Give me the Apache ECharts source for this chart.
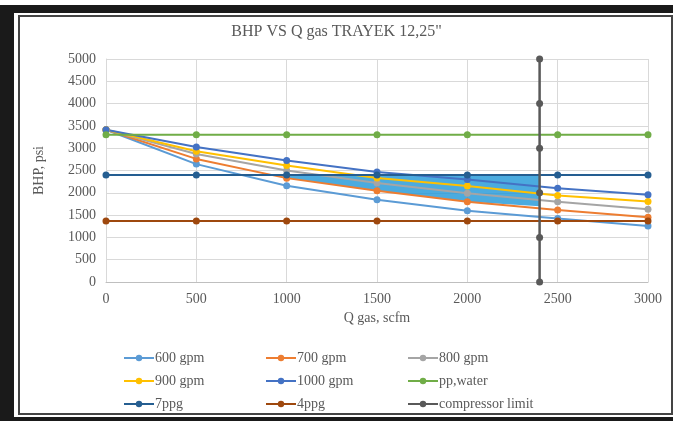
<!DOCTYPE html>
<html>
<head>
<meta charset="utf-8">
<script src="https://cdn.jsdelivr.net/npm/echarts@6/dist/echarts.min.js"></script>
<style>
  html, body { margin: 0; padding: 0; background: #fff; }
  #chart { width: 673px; height: 421px; }
</style>
</head>
<body>
<div id="chart"></div>
<script>
var qGas = [0, 500, 1000, 1500, 2000, 2500, 3000];
var gpm600 = [3414, 2643, 2156, 1842, 1595, 1422, 1258];
var gpm700 = [3414, 2760, 2329, 2044, 1800, 1617, 1453];
var gpm800 = [3414, 2870, 2500, 2220, 1990, 1797, 1633];
var gpm900 = [3414, 2930, 2610, 2330, 2150, 1940, 1804];
var gpm1000 = [3414, 3025, 2724, 2465, 2300, 2104, 1954];
var ppWater = [3300, 3300, 3300, 3300, 3300, 3300, 3300];
var ppg7 = [2400, 2400, 2400, 2400, 2400, 2400, 2400];
var ppg4 = [1370, 1370, 1370, 1370, 1370, 1370, 1370];
var compX = [2400, 2400, 2400, 2400, 2400, 2400];
var compY = [0, 1000, 2000, 3000, 4000, 5000];
// window between 7ppg and 700 gpm, up to the compressor limit
var shadeX = [920, 1000, 1500, 2000, 2400];
var shadeLow = [2400, 2329, 2044, 1800, 1700];
var shadeHigh = [2400, 2400, 2400, 2400, 2400];

var font = '"Liberation Serif", "Times New Roman", serif';
var txt = '#595959';

function pairs(xs, ys) {
    var out = [];
    for (var i = 0; i < xs.length; i++) out.push([xs[i], ys[i]]);
    return out;
}

function lineSeries(name, xs, ys, color, width) {
    return {
        name: name,
        type: 'line',
        data: pairs(xs, ys),
        symbol: 'circle',
        symbolSize: 7,
        showSymbol: true,
        itemStyle: { color: color },
        lineStyle: { color: color, width: width || 2 },
        emphasis: { disabled: true },
        animation: false
    };
}

var shadeRows = [];
for (var i = 0; i < shadeX.length; i++) shadeRows.push([shadeX[i], shadeLow[i], shadeHigh[i]]);

var shade = {
    name: 'window',
    type: 'custom',
    data: shadeRows,
    silent: true,
    animation: false,
    renderItem: function (params, api) {
        if (params.dataIndex !== 0) return;
        var pts = [];
        for (var i = 0; i < shadeRows.length; i++) pts.push(api.coord([shadeRows[i][0], shadeRows[i][2]]));
        for (var j = shadeRows.length - 1; j >= 0; j--) pts.push(api.coord([shadeRows[j][0], shadeRows[j][1]]));
        return {
            type: 'polygon',
            shape: { points: pts },
            style: { fill: 'rgba(30,150,215,0.8)' }
        };
    }
};

function legend(names, left, top) {
    return {
        data: names,
        orient: 'vertical',
        left: left,
        top: top,
        itemWidth: 30,
        itemHeight: 8,
        itemGap: 9,
        selectedMode: false,
        textStyle: { fontFamily: font, fontSize: 14, color: txt, padding: [0, 0, 0, -4] }
    };
}

function plain(v) { return String(v); }

var option = {
    backgroundColor: '#fff',
    title: {
        text: 'BHP VS Q gas TRAYEK 12,25"',
        left: 'center',
        top: 19,
        textStyle: { fontFamily: font, fontSize: 16, fontWeight: 'normal', color: txt }
    },
    graphic: [
        { type: 'rect', shape: { x: 0, y: 5, width: 673, height: 8 }, style: { fill: '#1a1a1a' } },
        { type: 'rect', shape: { x: 0, y: 5, width: 14, height: 416 }, style: { fill: '#1a1a1a' } },
        { type: 'rect', shape: { x: 0, y: 417, width: 673, height: 4 }, style: { fill: '#1a1a1a' } },
        { type: 'rect', shape: { x: 19, y: 16, width: 653, height: 398 }, style: { fill: 'none', stroke: '#444', lineWidth: 2 } }
    ],
    legend: [
        legend(['600 gpm', '900 gpm', '7ppg'], 118, 346),
        legend(['700 gpm', '1000 gpm', '4ppg'], 260, 346),
        legend(['800 gpm', 'pp,water', 'compressor limit'], 402, 346)
    ],
    grid: { left: 106, right: 25, top: 59, bottom: 139 },
    xAxis: {
        type: 'value',
        min: 0,
        max: 3000,
        interval: 500,
        name: 'Q gas, scfm',
        nameLocation: 'middle',
        nameGap: 27,
        nameTextStyle: { fontFamily: font, fontSize: 14, color: txt },
        axisLine: { lineStyle: { color: '#bfbfbf' } },
        axisTick: { show: false },
        axisLabel: { fontFamily: font, fontSize: 14, color: txt, margin: 10, formatter: plain },
        splitLine: { show: true, lineStyle: { color: '#d9d9d9' } }
    },
    yAxis: {
        type: 'value',
        min: 0,
        max: 5000,
        interval: 500,
        name: 'BHP, psi',
        nameLocation: 'middle',
        nameGap: 60,
        nameTextStyle: { fontFamily: font, fontSize: 14, color: txt },
        axisLine: { show: true, lineStyle: { color: '#d9d9d9' } },
        axisTick: { show: false },
        axisLabel: { fontFamily: font, fontSize: 14, color: txt, margin: 10, formatter: plain },
        splitLine: { lineStyle: { color: '#d9d9d9' } }
    },
    series: [
        lineSeries('600 gpm', qGas, gpm600, '#5B9BD5'),
        lineSeries('700 gpm', qGas, gpm700, '#ED7D31'),
        lineSeries('800 gpm', qGas, gpm800, '#A5A5A5'),
        lineSeries('900 gpm', qGas, gpm900, '#FFC000'),
        lineSeries('1000 gpm', qGas, gpm1000, '#4472C4'),
        shade,
        lineSeries('pp,water', qGas, ppWater, '#70AD47'),
        lineSeries('7ppg', qGas, ppg7, '#255E91'),
        lineSeries('4ppg', qGas, ppg4, '#9E480E'),
        lineSeries('compressor limit', compX, compY, '#595959', 2.5)
    ]
};

var myChart = echarts.init(document.getElementById('chart'));
myChart.setOption(option);
</script>
</body>
</html>
